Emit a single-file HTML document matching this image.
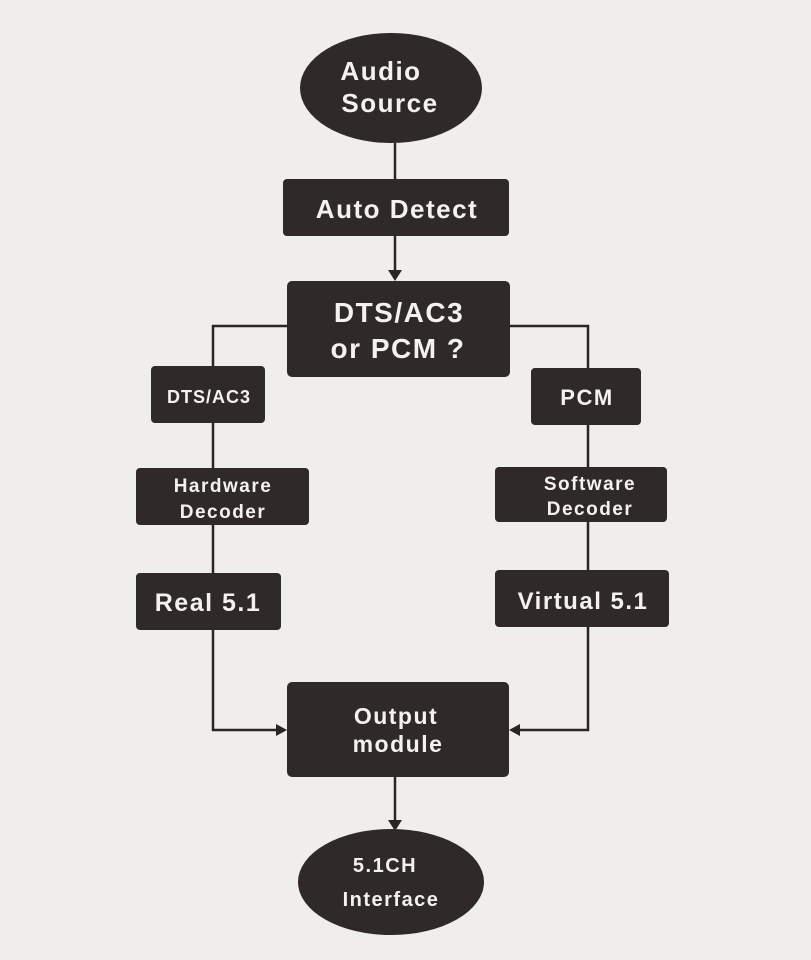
<!DOCTYPE html>
<html><head><meta charset="utf-8"><style>
html,body{margin:0;padding:0;background:#efeeed;}
svg{display:block;}
text{font-family:"Liberation Sans",sans-serif;font-weight:bold;fill:#f4f2f0;text-anchor:middle;letter-spacing:1.5px;}
</style></head><body>
<svg width="811" height="960" viewBox="0 0 811 960" xmlns="http://www.w3.org/2000/svg">
<rect width="811" height="960" fill="#efeeed"/>
<g stroke="#2a2524" stroke-width="2.5" fill="none">
<line x1="395" y1="143" x2="395" y2="179"/>
<line x1="395" y1="236" x2="395" y2="272"/>
<polyline points="287,326 213,326 213,368"/>
<polyline points="510,326 588,326 588,368"/>
<line x1="213" y1="423" x2="213" y2="468"/>
<line x1="213" y1="525" x2="213" y2="573"/>
<polyline points="213,630 213,730 278,730"/>
<line x1="588" y1="425" x2="588" y2="467"/>
<line x1="588" y1="522" x2="588" y2="570"/>
<polyline points="588,627 588,730 518,730"/>
<line x1="395" y1="777" x2="395" y2="822"/>
</g>
<g fill="#2a2524">
<polygon points="388,270 402,270 395,281"/>
<polygon points="276,724 276,736 287,730"/>
<polygon points="520,724 520,736 509,730"/>
<polygon points="388,820 402,820 395,831"/>
<ellipse cx="391" cy="88" rx="91" ry="55" fill="#2f2a29"/>
<ellipse cx="391" cy="882" rx="93" ry="53" fill="#2f2a29"/>
<g fill="#2f2a29">
<rect x="283" y="179" width="226" height="57" rx="4"/>
<rect x="287" y="281" width="223" height="96" rx="5"/>
<rect x="151" y="366" width="114" height="57" rx="4"/>
<rect x="531" y="368" width="110" height="57" rx="4"/>
<rect x="136" y="468" width="173" height="57" rx="4"/>
<rect x="495" y="467" width="172" height="55" rx="4"/>
<rect x="136" y="573" width="145" height="57" rx="4"/>
<rect x="495" y="570" width="174" height="57" rx="4"/>
<rect x="287" y="682" width="222" height="95" rx="5"/>
</g>
</g>
<text x="381" y="80" font-size="26">Audio</text>
<text x="390" y="112" font-size="26">Source</text>
<text x="397" y="218" font-size="26">Auto Detect</text>
<text x="399" y="322" font-size="28">DTS/AC3</text>
<text x="398" y="358" font-size="28">or PCM ?</text>
<text x="209" y="403" font-size="18" style="letter-spacing:1px">DTS/AC3</text>
<text x="587" y="405" font-size="22">PCM</text>
<text x="223" y="492" font-size="19">Hardware</text>
<text x="223" y="518" font-size="19">Decoder</text>
<text x="590" y="490" font-size="19">Software</text>
<text x="590" y="515" font-size="19">Decoder</text>
<text x="208" y="611" font-size="25">Real 5.1</text>
<text x="583" y="609" font-size="24">Virtual 5.1</text>
<text x="396" y="724" font-size="23">Output</text>
<text x="398" y="752" font-size="23">module</text>
<text x="385" y="872" font-size="20">5.1CH</text>
<text x="391" y="906" font-size="20">Interface</text>
</svg>
</body></html>
